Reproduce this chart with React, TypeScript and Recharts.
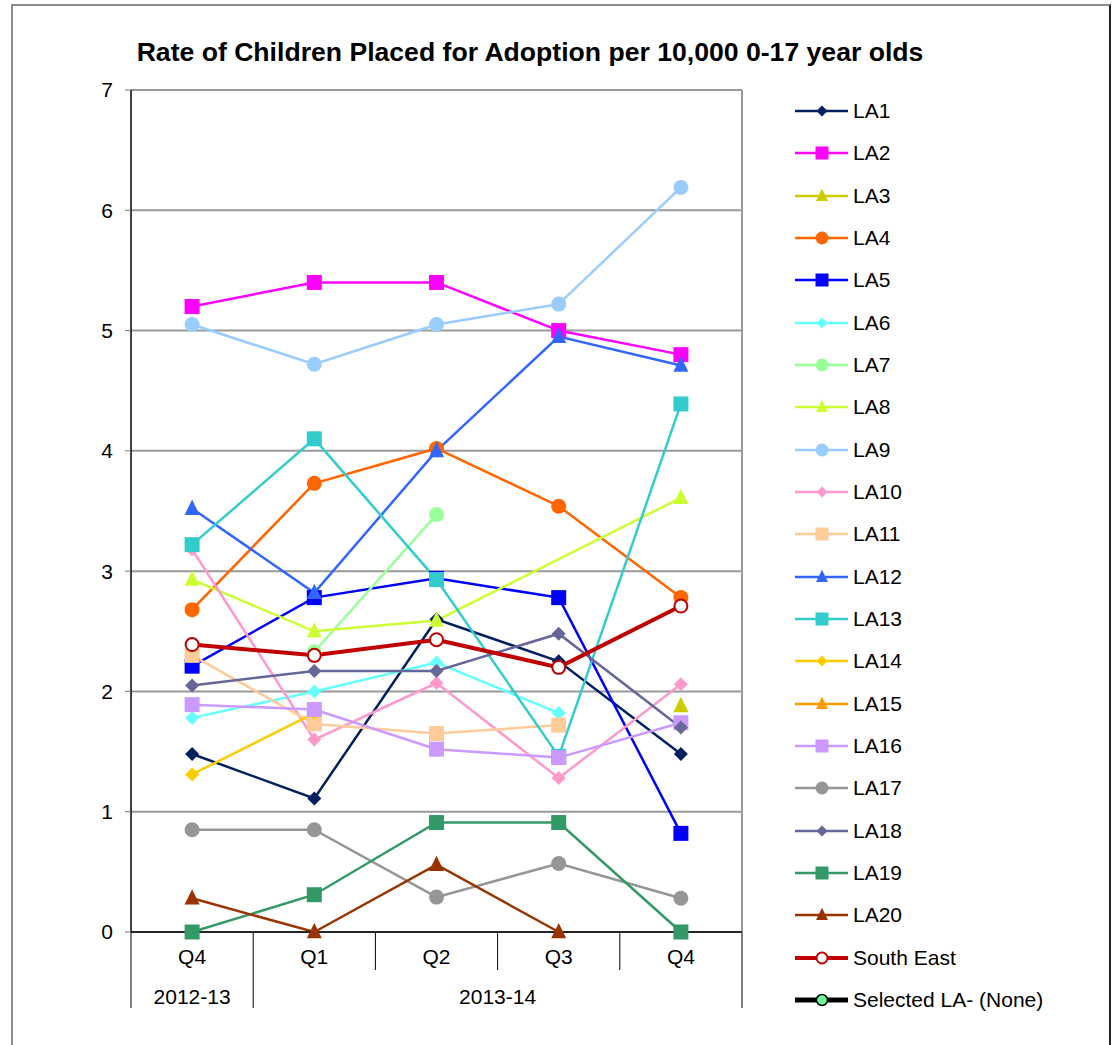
import React from "react"
import { LineChart, Line, XAxis, YAxis, CartesianGrid, Legend } from "recharts"

const QUARTERS = ["Q4", "Q1", "Q2", "Q3", "Q4"]
const YEARS = ["2012-13", "2013-14", "2013-14", "2013-14", "2013-14"]
const Y_TICKS = [0, 1, 2, 3, 4, 5, 6, 7]

// rate per 10,000 0-17 year olds, one value per quarter (null = no figure)
const LA1 = [1.48, 1.11, 2.6, 2.25, 1.48]
const LA2 = [5.2, 5.4, 5.4, 5.0, 4.8]
const LA3 = [null, null, null, null, 1.88]
const LA4 = [2.68, 3.73, 4.02, 3.54, 2.78]
const LA5 = [2.21, 2.78, 2.94, 2.78, 0.82]
const LA6 = [1.78, 2.0, 2.24, 1.82, null]
const LA7 = [null, 2.33, 3.47, null, null]
const LA8 = [2.93, 2.5, 2.59, null, 3.61]
const LA9 = [5.05, 4.72, 5.05, 5.22, 6.19]
const LA10 = [3.18, 1.6, 2.07, 1.28, 2.06]
const LA11 = [2.3, 1.73, 1.65, 1.72, null]
const LA12 = [3.52, 2.82, 4.0, 4.95, 4.71]
const LA13 = [3.22, 4.1, 2.93, 1.46, 4.39]
const LA14 = [1.31, 1.82, null, null, null]
const LA15 = [null, null, null, null, null]
const LA16 = [1.89, 1.85, 1.52, 1.45, 1.74]
const LA17 = [0.85, 0.85, 0.29, 0.57, 0.28]
const LA18 = [2.05, 2.17, 2.17, 2.48, 1.7]
const LA19 = [0, 0.31, 0.91, 0.91, 0]
const LA20 = [0.28, 0, 0.56, 0, null]
const SOUTH_EAST = [2.39, 2.3, 2.43, 2.2, 2.71]
const SELECTED_LA = [null, null, null, null, null]

type Shape = "diamond" | "square" | "triangle" | "circle" | "open" | "selected"

interface Series {
  name: string
  values: (number | null)[]
  color: string
  shape: Shape
  width?: number
}

const SERIES: Series[] = [
  { name: "LA1", values: LA1, color: "#002060", shape: "diamond" },
  { name: "LA2", values: LA2, color: "#FF00FF", shape: "square" },
  { name: "LA3", values: LA3, color: "#CCCC00", shape: "triangle" },
  { name: "LA4", values: LA4, color: "#FF6600", shape: "circle" },
  { name: "LA5", values: LA5, color: "#0000FF", shape: "square" },
  { name: "LA6", values: LA6, color: "#66FFFF", shape: "diamond" },
  { name: "LA7", values: LA7, color: "#99FF99", shape: "circle" },
  { name: "LA8", values: LA8, color: "#CCFF33", shape: "triangle" },
  { name: "LA9", values: LA9, color: "#99CCFF", shape: "circle" },
  { name: "LA10", values: LA10, color: "#FF99CC", shape: "diamond" },
  { name: "LA11", values: LA11, color: "#FFCC99", shape: "square" },
  { name: "LA12", values: LA12, color: "#3366FF", shape: "triangle" },
  { name: "LA13", values: LA13, color: "#33CCCC", shape: "square" },
  { name: "LA14", values: LA14, color: "#FFCC00", shape: "diamond" },
  { name: "LA15", values: LA15, color: "#FF9900", shape: "triangle" },
  { name: "LA16", values: LA16, color: "#CC99FF", shape: "square" },
  { name: "LA17", values: LA17, color: "#969696", shape: "circle" },
  { name: "LA18", values: LA18, color: "#666699", shape: "diamond" },
  { name: "LA19", values: LA19, color: "#339966", shape: "square" },
  { name: "LA20", values: LA20, color: "#993300", shape: "triangle" },
  { name: "South East", values: SOUTH_EAST, color: "#C00000", shape: "open", width: 4 },
  { name: "Selected LA- (None)", values: SELECTED_LA, color: "#000000", shape: "selected", width: 5 },
]

const FONT = '"Liberation Sans", Arial, sans-serif'

const chartData = QUARTERS.map((q, i) => {
  const row: Record<string, string | number | null> = { period: `${YEARS[i]} ${q}` }
  SERIES.forEach((s) => {
    row[s.name] = s.values[i]
  })
  return row
})

function Marker({ shape, cx, cy, size, color }: { shape: Shape; cx: number; cy: number; size: number; color: string }) {
  const h = size / 2
  switch (shape) {
    case "diamond":
      return <polygon points={`${cx},${cy - h} ${cx + h},${cy} ${cx},${cy + h} ${cx - h},${cy}`} fill={color} />
    case "square":
      return <rect x={cx - h} y={cy - h} width={size} height={size} fill={color} />
    case "triangle":
      return (
        <polygon
          points={`${cx},${cy - size * 0.6} ${cx + h},${cy + size * 0.42} ${cx - h},${cy + size * 0.42}`}
          fill={color}
        />
      )
    case "circle":
      return <circle cx={cx} cy={cy} r={h} fill={color} />
    case "open":
      return <circle cx={cx} cy={cy} r={h - 1} fill="#fff" stroke={color} strokeWidth={2} />
    case "selected":
      return <circle cx={cx} cy={cy} r={h - 1} fill="#66FF99" stroke="#000" strokeWidth={1.5} />
  }
  return null
}

const makeDot = (s: Series) => (props: any) => {
  const { cx, cy, index } = props
  if (cx == null || cy == null || props.value == null) return <g key={`${s.name}-${index}`} />
  const size = s.shape === "diamond" ? 14 : 15
  return (
    <g key={`${s.name}-${index}`}>
      <Marker shape={s.shape} cx={cx} cy={cy} size={size} color={s.color} />
    </g>
  )
}

// two-level category axis: quarter labels plus financial-year groups
const QuarterTick = (props: any) => {
  const { x, y, payload, index } = props
  const half = payload?.offset || 61
  const isGroupStart = index === 0 || YEARS[index] !== YEARS[index - 1]
  let groupCount = 1
  while (index + groupCount < YEARS.length && YEARS[index + groupCount] === YEARS[index]) groupCount++
  const last = index === QUARTERS.length - 1
  return (
    <g fontFamily={FONT}>
      <line x1={x - half} x2={x - half} y1={y} y2={y + (isGroupStart ? 76 : 38)} stroke="#000" strokeWidth={1} />
      {last && <line x1={x + half} x2={x + half} y1={y} y2={y + 76} stroke="#555" strokeWidth={1.5} />}
      <text x={x} y={y + 32} textAnchor="middle" fontSize={21} fill="#000">
        {QUARTERS[index]}
      </text>
      {isGroupStart && (
        <text x={x + (groupCount - 1) * half} y={y + 72} textAnchor="middle" fontSize={21} fill="#000">
          {YEARS[index]}
        </text>
      )}
    </g>
  )
}

const legendMarkerSize = (shape: Shape) =>
  shape === "square" ? 13 : shape === "diamond" ? 11 : shape === "triangle" ? 12 : 13

const renderLegend = () => (
  <div style={{ fontFamily: FONT, fontSize: 21, color: "#000" }}>
    {SERIES.map((s) => (
      <div key={s.name} style={{ display: "flex", alignItems: "center", height: 42.33 }}>
        <svg width={60} height={20} style={{ display: "block" }}>
          <line x1={5} x2={58} y1={10} y2={10} stroke={s.color} strokeWidth={s.width ?? 2.5} />
          <Marker shape={s.shape} cx={32} cy={10} size={legendMarkerSize(s.shape)} color={s.color} />
        </svg>
        <span style={{ marginLeft: 3, whiteSpace: "nowrap" }}>{s.name}</span>
      </div>
    ))}
  </div>
)

export default function App() {
  return (
    <div style={{ position: "absolute", left: 0, top: 0, width: 1113, height: 1045, background: "#fff", overflow: "hidden" }}>
      <div
        style={{
          position: "absolute",
          left: 11,
          top: 4,
          width: 1096,
          height: 1060,
          borderLeft: "2px solid #8c8c8c",
          borderTop: "2px solid #8c8c8c",
          borderRight: "2px solid #222",
        }}
      />
      <div
        style={{
          position: "absolute",
          left: 0,
          width: 1060,
          top: 37,
          textAlign: "center",
          fontFamily: FONT,
          fontWeight: "bold",
          fontSize: 26.6,
          color: "#000",
        }}
      >
        Rate of Children Placed for Adoption per 10,000 0-17 year olds
      </div>
      <div style={{ position: "absolute", left: 0, top: 0 }}>
        <LineChart width={1113} height={1045} data={chartData} margin={{ top: 90, right: 371, left: 71, bottom: 33 }}>
          <CartesianGrid
            stroke="#999999"
            strokeWidth={2}
            verticalCoordinatesGenerator={({ offset }: any) => [offset.left + offset.width]}
          />
          <XAxis
            dataKey="period"
            scale="band"
            height={80}
            interval={0}
            axisLine={{ stroke: "#000", strokeWidth: 1.5 }}
            tickLine={false}
            tickSize={0}
            tickMargin={0}
            tick={<QuarterTick />}
          />
          <YAxis
            width={60}
            domain={[0, 7]}
            ticks={Y_TICKS}
            interval={0}
            axisLine={{ stroke: "#000", strokeWidth: 1.5 }}
            tickLine={{ stroke: "#777" }}
            tickSize={6}
            tickMargin={12}
            tick={{ fontSize: 21, fill: "#000", fontFamily: FONT }}
          />
          <Legend
            layout="vertical"
            align="center"
            verticalAlign="middle"
            content={renderLegend}
            wrapperStyle={{ left: 790, top: 90, width: 320 }}
          />
          {SERIES.map((s) => (
            <Line
              key={s.name}
              type="linear"
              dataKey={s.name}
              stroke={s.color}
              strokeWidth={s.width ?? 2.5}
              dot={makeDot(s)}
              activeDot={false}
              connectNulls
              isAnimationActive={false}
            />
          ))}
        </LineChart>
      </div>
    </div>
  )
}
